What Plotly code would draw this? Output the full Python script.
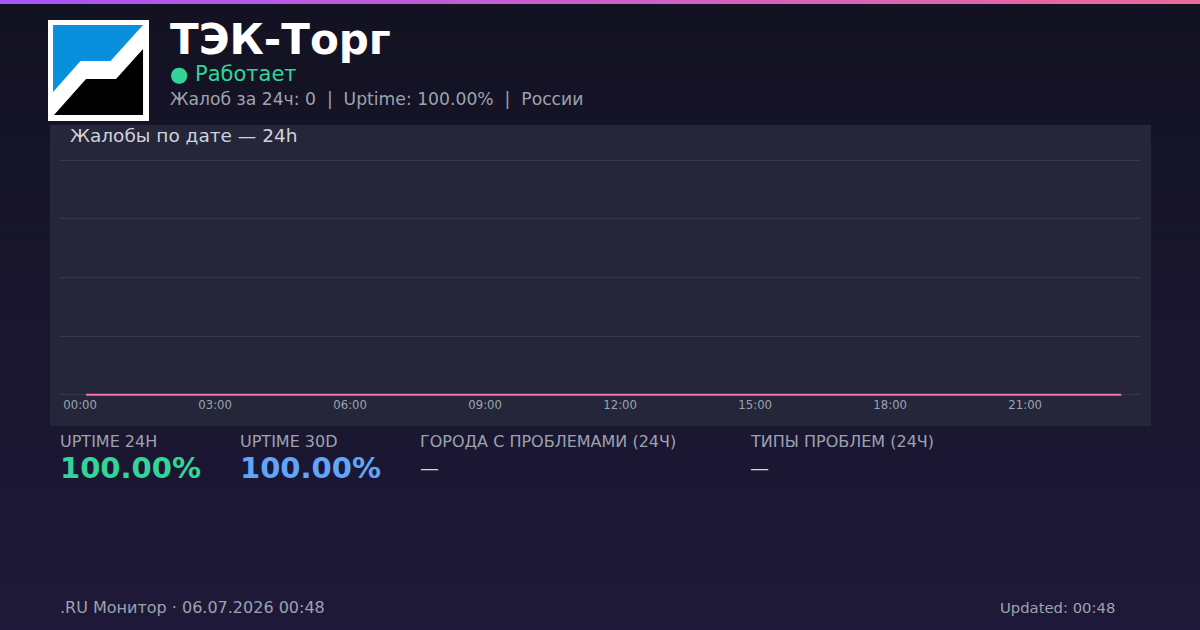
import plotly.graph_objects as go

W, H = 1200, 630

# hourly complaints over the last 24h
hours = ["00:00", "01:00", "02:00", "03:00", "04:00", "05:00", "06:00", "07:00",
         "08:00", "09:00", "10:00", "11:00", "12:00", "13:00", "14:00", "15:00",
         "16:00", "17:00", "18:00", "19:00", "20:00", "21:00", "22:00", "23:00"]
complaints = [0, 0, 0, 0, 0, 0, 0, 0, 0, 0, 0, 0,
              0, 0, 0, 0, 0, 0, 0, 0, 0, 0, 0, 0]
tick_hours = ["00:00", "03:00", "06:00", "09:00", "12:00", "15:00", "18:00", "21:00"]

service = "ТЭК-Торг"
status = "● Работает"
summary = "Жалоб за 24ч: 0  |  Uptime: 100.00%  |  России"
stat_labels = ["UPTIME 24H", "UPTIME 30D", "ГОРОДА С ПРОБЛЕМАМИ (24Ч)", "ТИПЫ ПРОБЛЕМ (24Ч)"]
stat_values = ["100.00%", "100.00%", "—", "—"]
footer_left = ".RU Монитор · 06.07.2026 00:48"
footer_right = "Updated: 00:48"

FONT = "DejaVu Sans"


def px(x):
    return x / W


def py(y):
    return 1 - y / H


def hex_mix(c1, c2, t):
    a = [int(c1[i:i + 2], 16) for i in (1, 3, 5)]
    b = [int(c2[i:i + 2], 16) for i in (1, 3, 5)]
    return "#" + "".join("%02x" % round(a[k] + (b[k] - a[k]) * t) for k in range(3))


fig = go.Figure()
fig.add_trace(go.Scatter(x=hours, y=complaints, mode="lines", cliponaxis=False,
                         line=dict(color="#f472b6", width=2), hoverinfo="skip"))

shapes = []
# background vertical gradient
n = 40
for i in range(n):
    shapes.append(dict(type="rect", xref="paper", yref="paper", layer="below",
                       x0=0, x1=1, y0=py(H * (i + 1) / n + 1), y1=py(H * i / n),
                       fillcolor=hex_mix("#131222", "#1e1938", i / (n - 1)), line_width=0))
# top accent bar
m = 40
for i in range(m):
    shapes.append(dict(type="rect", xref="paper", yref="paper", layer="below",
                       x0=px(W * i / m), x1=px(W * (i + 1) / m + 1), y0=py(4), y1=1,
                       fillcolor=hex_mix("#a855f7", "#ec6a9a", i / (m - 1)), line_width=0))
# chart panel
shapes.append(dict(type="rect", xref="paper", yref="paper", layer="below",
                   x0=px(50), x1=px(1151), y0=py(426), y1=py(125),
                   fillcolor="#25263a", line_width=0))
# logo
shapes.append(dict(type="rect", xref="paper", yref="paper",
                   x0=px(48), x1=px(149), y0=py(121), y1=py(20),
                   fillcolor="#ffffff", line_width=0))


def path(pts):
    return "M " + " L ".join("%.4f,%.4f" % (px(a), py(b)) for a, b in pts) + " Z"


shapes.append(dict(type="path", xref="paper", yref="paper", line_width=0, fillcolor="#0890dc",
                   path=path([(53, 25), (143, 25), (110.5, 61), (80.5, 61), (53, 92)])))
shapes.append(dict(type="path", xref="paper", yref="paper", line_width=0, fillcolor="#000000",
                   path=path([(143, 49), (143, 115), (54, 115), (86, 79), (116, 79)])))

ann = []


def text(x, y, s, size, color, bold=False, anchor="left"):
    ann.append(dict(x=px(x), y=py(y), xref="paper", yref="paper", text=("<b>%s</b>" % s) if bold else s,
                    showarrow=False, xanchor=anchor, yanchor="middle",
                    font=dict(family=FONT, size=size, color=color)))


text(168, 39, service, 42, "#ffffff", bold=True)
text(168, 74, status, 21, "#34d399")
text(168, 99, summary, 17.2, "#9ca3af")
text(68, 135, "Жалобы по дате — 24h", 18.5, "#cfd2da")

stat_x = [58, 238, 418, 748]
stat_colors = ["#34d399", "#60a5fa", "#d1d5db", "#d1d5db"]
for i in range(4):
    text(stat_x[i], 442, stat_labels[i], 16, "#9ca3af")
    text(stat_x[i], 468, stat_values[i], 29 if i < 2 else 19, stat_colors[i], bold=i < 2)

text(58, 607, footer_left, 16, "#9ca3af")
text(1117, 607, footer_right, 14.8, "#9ca3af", anchor="right")

fig.update_layout(
    width=W, height=H, margin=dict(l=0, r=0, t=0, b=0),
    paper_bgcolor="#17152a", plot_bgcolor="rgba(0,0,0,0)",
    showlegend=False, shapes=shapes, annotations=ann,
    xaxis=dict(domain=[px(60), px(1141)], type="category", categoryarray=hours,
               range=[-0.58, 23.44], tickmode="array", tickvals=tick_hours, ticktext=tick_hours,
               showgrid=False, zeroline=False, showline=False, ticks="",
               tickfont=dict(family=FONT, size=11.7, color="#9ca3af"), ticklabelshift=-6),
    yaxis=dict(domain=[py(396), py(159)], range=[-0.02, 4.02], tickmode="array",
               tickvals=[0, 1, 2, 3, 4], showticklabels=False,
               showgrid=True, gridcolor="#36374c", gridwidth=1, zeroline=False, showline=False),
)

fig.write_html("out.html", config={"displayModeBar": False},
               post_script="document.body.style.margin='0';")
